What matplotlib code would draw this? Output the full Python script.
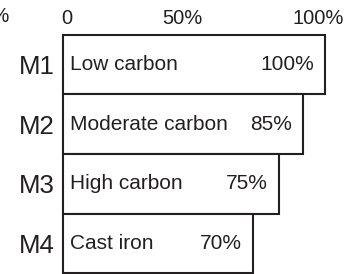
import matplotlib
matplotlib.use("Agg")
import matplotlib.pyplot as plt

plt.rcParams['font.family'] = ['Liberation Sans', 'DejaVu Sans']

# Data
grades = ['M1', 'M2', 'M3', 'M4']
materials = ['Low carbon', 'Moderate carbon', 'High carbon', 'Cast iron']
rating_labels = [100, 85, 75, 70]          # printed values
bar_lengths = [100, 91.6, 82.4, 72.5]      # drawn bar lengths (schematic scale)
tick_pos = [1.5, 45.4, 97.3]
tick_labels = ['0', '50%', '100%']

INK = '#231f20'

fig = plt.figure(figsize=(3.56, 2.74), dpi=100)
ax = fig.add_axes([63 / 356, 1 / 274, 262 / 356, 238 / 274])

y = range(len(grades))
ax.barh(y, bar_lengths, height=1.0, color='white', edgecolor=INK,
        linewidth=1.5, clip_on=False)

for i, (name, val, length) in enumerate(zip(materials, rating_labels, bar_lengths)):
    ax.annotate(name, (0, i), xytext=(5, 0), textcoords='offset points',
                ha='left', va='center', fontsize=15, color=INK)
    ax.annotate(f"{val}%", (length, i), xytext=(-8, 0), textcoords='offset points',
                ha='right', va='center', fontsize=15, color=INK)

ax.set_xlim(0, 100)
ax.set_ylim(3.5, -0.5)
ax.set_yticks(list(y))
ax.set_yticklabels(grades, fontsize=18.5, color=INK)
ax.xaxis.tick_top()
ax.set_xticks(tick_pos)
ax.set_xticklabels(tick_labels, fontsize=14.5, color=INK)
ax.tick_params(axis='both', length=0)
ax.tick_params(axis='x', pad=5)
ax.tick_params(axis='y', pad=6)
for s in ax.spines.values():
    s.set_visible(False)

# clipped label fragment at the left edge
fig.text(10 / 356, 1 - 17 / 274, '100%', ha='right', va='center',
         fontsize=14.5, color=INK)

fig.savefig('out.png', dpi=100)
